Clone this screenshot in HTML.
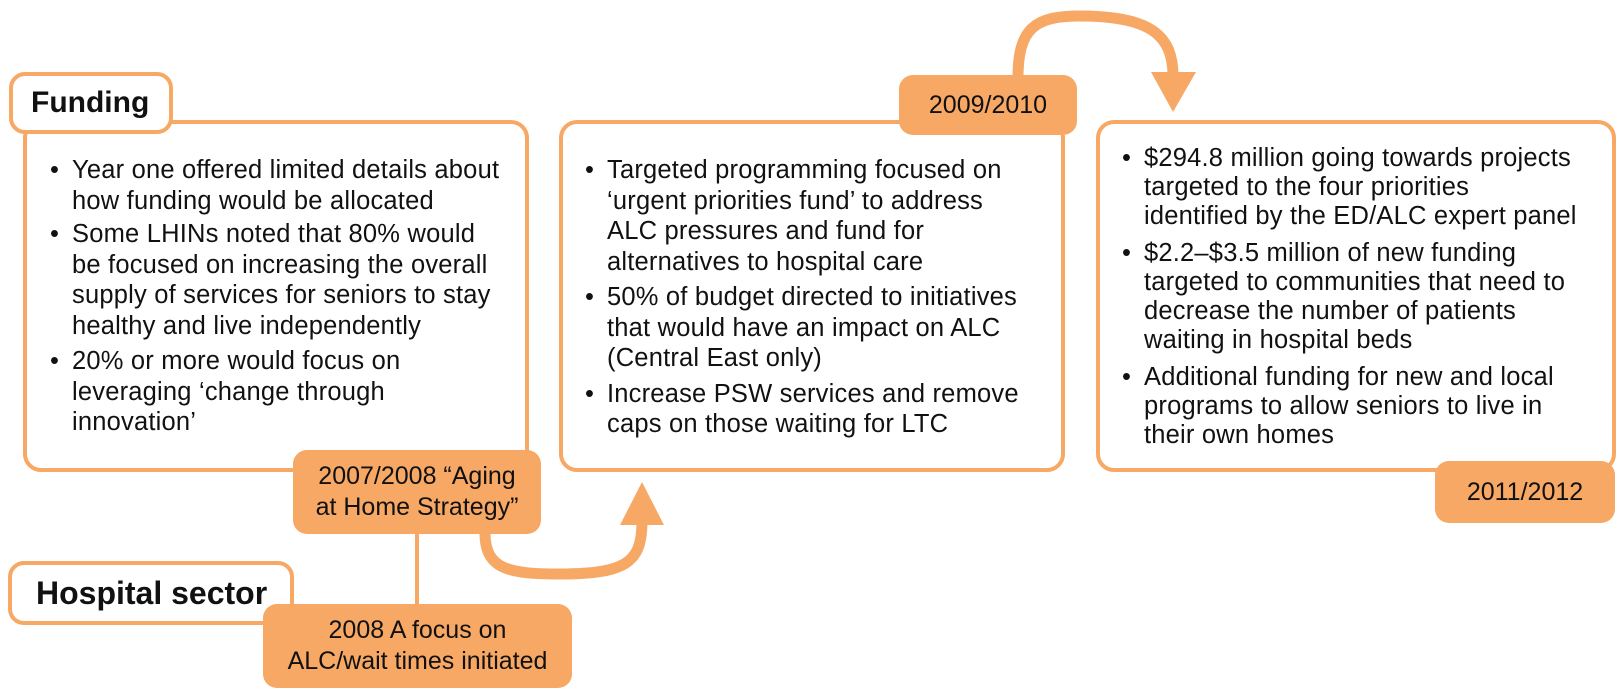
<!DOCTYPE html>
<html><head><meta charset="utf-8"><style>
body{margin:0;width:1624px;height:698px;background:#fff;position:relative;overflow:hidden;font-family:"Liberation Sans",sans-serif;color:#111}
.box{position:absolute;border:4px solid #f7a865;border-radius:18px;background:#fff;box-sizing:border-box}
.tag{position:absolute;background:#f7a865;border-radius:14px;box-sizing:border-box;text-align:center;font-size:25px;line-height:31px;color:#111;white-space:nowrap}
.lbl{position:absolute;border:4px solid #f7a865;border-radius:16px;background:#fff;box-sizing:border-box;font-weight:bold;white-space:nowrap}
ul{position:absolute;margin:0;padding:0;list-style:none;font-size:25.5px;letter-spacing:0.2px;white-space:nowrap}
li{position:relative;padding-left:22px}
li:before{content:"•";position:absolute;left:0}
svg{position:absolute;left:0;top:0}
</style></head><body>
<div class="box" style="left:23px;top:120px;width:506px;height:352px"></div>
<div class="box" style="left:559px;top:120px;width:506px;height:352px"></div>
<div class="box" style="left:1096px;top:120px;width:520px;height:352px"></div>
<svg width="1624" height="698">
<g fill="none" stroke="#f7a865" stroke-width="11">
<path d="M1018 78 C1018 28 1035 16 1080 16 C1150 16 1173 35 1173 76"/>
<path d="M485 533 C485 570 510 574 560 574 C630 574 642 560 642 520"/>
<line x1="417" y1="530" x2="417" y2="606" stroke-width="4"/>
</g>
<polygon points="1151,72 1196,72 1173,112" fill="#f7a865"/>
<polygon points="620,525 664,525 642,482" fill="#f7a865"/>
</svg>
<div class="lbl" style="left:9px;top:72px;width:164px;height:62px;line-height:54px;padding-left:18px;font-size:30px">Funding</div>
<div class="lbl" style="left:8px;top:561px;width:286px;height:64px;line-height:56px;padding-left:24px;font-size:32px">Hospital sector</div>
<ul style="left:50px;top:155px;line-height:30.5px">
<li style="margin-bottom:3px">Year one offered limited details about<br>how funding would be allocated</li>
<li style="margin-bottom:5px">Some LHINs noted that 80% would<br>be focused on increasing the overall<br>supply of services for seniors to stay<br>healthy and live independently</li>
<li>20% or more would focus on<br>leveraging ‘change through<br>innovation’</li>
</ul>
<ul style="left:585px;top:155px;line-height:30.5px">
<li style="margin-bottom:5px">Targeted programming focused on<br>‘urgent priorities fund’ to address<br>ALC pressures and fund for<br>alternatives to hospital care</li>
<li style="margin-bottom:5px">50% of budget directed to initiatives<br>that would have an impact on ALC<br>(Central East only)</li>
<li>Increase PSW services and remove<br>caps on those waiting for LTC</li>
</ul>
<ul style="left:1122px;top:144px;line-height:29px">
<li style="margin-bottom:8px">$294.8 million going towards projects<br>targeted to the four priorities<br>identified by the ED/ALC expert panel</li>
<li style="margin-bottom:8px">$2.2–$3.5 million of new funding<br>targeted to communities that need to<br>decrease the number of patients<br>waiting in hospital beds</li>
<li>Additional funding for new and local<br>programs to allow seniors to live in<br>their own homes</li>
</ul>
<div class="tag" style="left:293px;top:450px;width:248px;height:84px;padding-top:11px">2007/2008 “Aging<br>at Home Strategy”</div>
<div class="tag" style="left:263px;top:604px;width:309px;height:84px;padding-top:11px">2008 A focus on<br>ALC/wait times initiated</div>
<div class="tag" style="left:899px;top:75px;width:178px;height:60px;line-height:60px">2009/2010</div>
<div class="tag" style="left:1435px;top:461px;width:180px;height:62px;line-height:62px">2011/2012</div>
</body></html>
